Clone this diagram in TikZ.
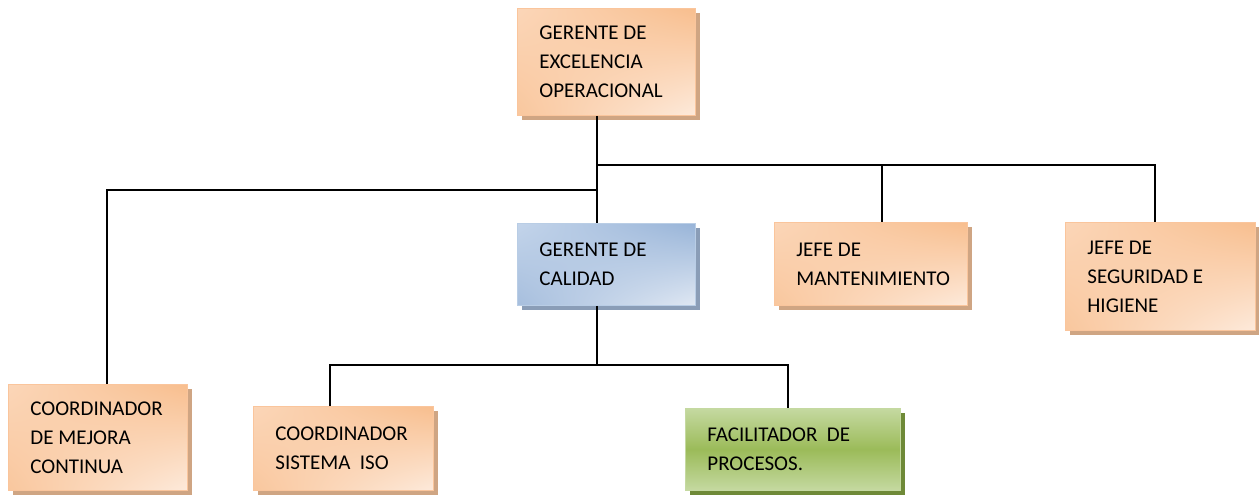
\documentclass[tikz,border=0pt]{standalone}
\usepackage{fontspec}
\setmainfont{Carlito}
\usetikzlibrary{shadows,shadings}

\definecolor{orgA}{HTML}{F8BE8E}
\definecolor{orgB}{HTML}{FBD6B8}
\definecolor{orgC}{HTML}{FDEADB}
\definecolor{orgLine}{HTML}{FAC59C}
\definecolor{orgShadow}{HTML}{CFA583}
\definecolor{bluA}{HTML}{98B4D8}
\definecolor{bluB}{HTML}{C3D4EA}
\definecolor{bluC}{HTML}{E0E8F3}
\definecolor{bluLine}{HTML}{B9CDE5}
\definecolor{bluShadow}{HTML}{8A9DB7}
\definecolor{grnA}{HTML}{9BBB59}
\definecolor{grnB}{HTML}{C5D9A1}
\definecolor{grnShadow}{HTML}{6F8A38}

\tikzset{
    orgbox/.style={anchor=north west, align=flush left, inner xsep=22pt, inner ysep=0pt,
        line width=0.8pt, text=black, font=\fontsize{21}{29}\selectfont},
    orangebox/.style={orgbox, draw=orgLine,
        upper right=orgA, upper left=orgB, lower left=orgA!80!orgC, lower right=orgC,
        drop shadow={shadow xshift=5pt, shadow yshift=-5pt, fill=orgShadow, opacity=1}},
    bluebox/.style={orgbox, draw=bluLine,
        upper right=bluA, upper left=bluB, lower left=bluA!80!bluC, lower right=bluC,
        drop shadow={shadow xshift=5pt, shadow yshift=-5pt, fill=bluShadow, opacity=1}},
    greenbox/.style={orgbox, draw=grnB,
        top color=grnB, bottom color=grnB, middle color=grnA,
        drop shadow={shadow xshift=5pt, shadow yshift=-5pt, fill=grnShadow, opacity=1}},
    link/.style={line width=1.5pt, black}
}

\begin{document}
\begin{tikzpicture}[x=1pt, y=-1pt]
    \useasboundingbox (0,0) rectangle (1259,495);

    % Boxes
    \node[orangebox, text width=134pt, minimum height=107pt] (top) at (517,8)
        {GERENTE DE\\EXCELENCIA\\OPERACIONAL};
    \node[bluebox, text width=134pt, minimum height=82pt] (cal) at (517,223)
        {GERENTE DE\\CALIDAD};
    \node[orangebox, text width=149pt, minimum height=83pt] (mant) at (774,222)
        {JEFE DE\\MANTENIMIENTO};
    \node[orangebox, text width=146pt, minimum height=108pt] (seg) at (1065,222)
        {JEFE DE\\SEGURIDAD E\\HIGIENE};
    \node[orangebox, text width=135pt, minimum height=106pt] (mej) at (8,384)
        {COORDINADOR\\DE MEJORA\\CONTINUA};
    \node[orangebox, text width=136pt, minimum height=84pt] (iso) at (253,406)
        {COORDINADOR\\SISTEMA\ \ ISO};
    \node[greenbox, text width=171pt, minimum height=82pt] (fac) at (685,408)
        {FACILITADOR\ \ DE\\PROCESOS.};

    % Junctions
    \coordinate (jR) at (597,165);
    \coordinate (jL) at (597,190);
    \coordinate (jC) at (597,365);
    \coordinate (xMant) at (882,165);
    \coordinate (xSeg) at (1155,165);
    \coordinate (xMej) at (107,190);
    \coordinate (xIso) at (330,365);
    \coordinate (xFac) at (788,365);

    % Connectors
    \draw[link] (jR |- top.south) -- (jR |- cal.north);
    \draw[link] (jR) -- (xSeg) -- (xSeg |- seg.north);
    \draw[link] (xMant) -- (xMant |- mant.north);
    \draw[link] (jL) -- (xMej) -- (xMej |- mej.north);
    \draw[link] (jC |- cal.south) -- (jC);
    \draw[link] (xIso |- iso.north) -- (xIso) -- (xFac) -- (xFac |- fac.north);

\end{tikzpicture}
\end{document}
